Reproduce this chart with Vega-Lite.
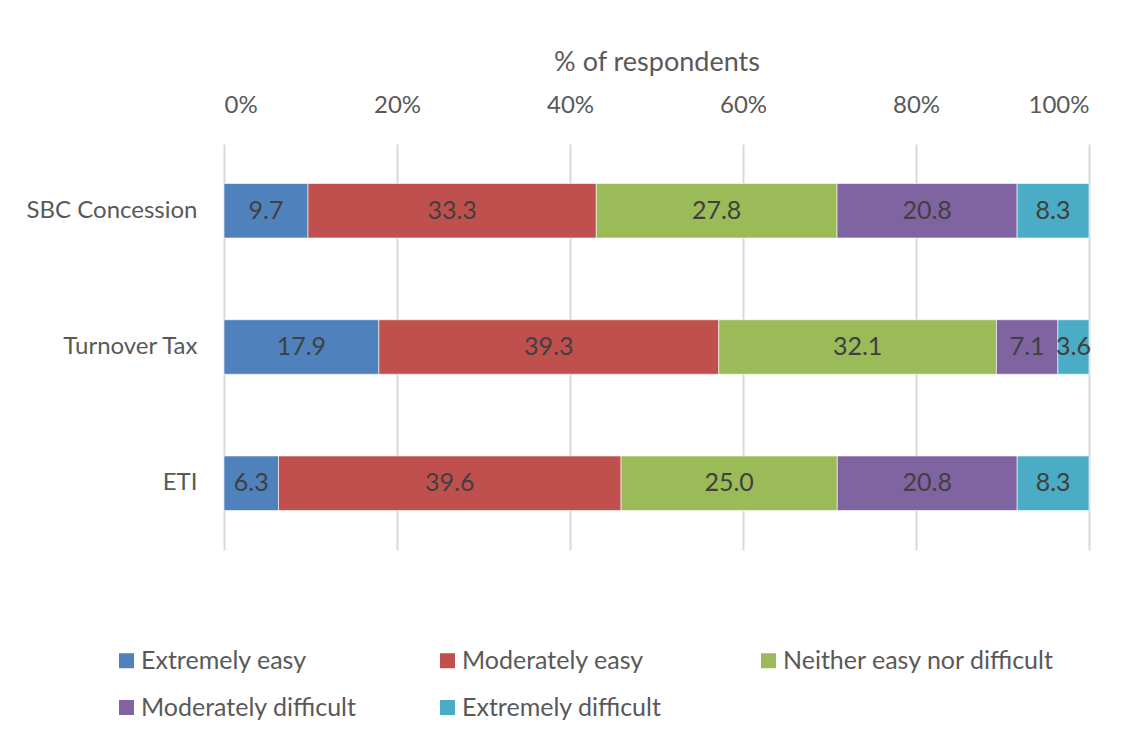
{
  "$schema": "https://vega.github.io/schema/vega-lite/v6.json",
  "width": 865,
  "height": 406,
  "autosize": "none",
  "padding": {"left": 224, "top": 144, "right": 38, "bottom": 189},
  "background": "#ffffff",
  "config": {
    "font": "Lato",
    "view": {"stroke": null},
    "text": {"font": "Lato"}
  },
  "data": {
    "values": [
      {"task": "SBC Concession", "level": "\u00a0Extremely easy", "k": 1, "value": 9.7},
      {"task": "SBC Concession", "level": "Moderately easy", "k": 2, "value": 33.3},
      {"task": "SBC Concession", "level": "Neither easy nor difficult", "k": 3, "value": 27.8},
      {"task": "SBC Concession", "level": "Moderately difficult", "k": 4, "value": 20.8},
      {"task": "SBC Concession", "level": "Extremely difficult", "k": 5, "value": 8.3},
      {"task": "Turnover Tax", "level": "\u00a0Extremely easy", "k": 1, "value": 17.9},
      {"task": "Turnover Tax", "level": "Moderately easy", "k": 2, "value": 39.3},
      {"task": "Turnover Tax", "level": "Neither easy nor difficult", "k": 3, "value": 32.1},
      {"task": "Turnover Tax", "level": "Moderately difficult", "k": 4, "value": 7.1},
      {"task": "Turnover Tax", "level": "Extremely difficult", "k": 5, "value": 3.6},
      {"task": "ETI", "level": "\u00a0Extremely easy", "k": 1, "value": 6.3},
      {"task": "ETI", "level": "Moderately easy", "k": 2, "value": 39.6},
      {"task": "ETI", "level": "Neither easy nor difficult", "k": 3, "value": 25.0},
      {"task": "ETI", "level": "Moderately difficult", "k": 4, "value": 20.8},
      {"task": "ETI", "level": "Extremely difficult", "k": 5, "value": 8.3}
    ]
  },
  "encoding": {
    "y": {
      "field": "task",
      "type": "nominal",
      "sort": null,
      "scale": {"paddingInner": 0.6, "paddingOuter": 0.29},
      "axis": {
        "title": null,
        "domain": false,
        "ticks": false,
        "labelFontSize": 24,
        "labelColor": "#595959",
        "labelPadding": 27,
        "labelFont": "Lato"
      }
    },
    "order": {"field": "k", "type": "quantitative"}
  },
  "layer": [
    {
      "mark": {"type": "bar", "stroke": "#ffffff", "strokeWidth": 0.6},
      "encoding": {
        "x": {
          "field": "value",
          "type": "quantitative",
          "stack": "normalize",
          "scale": {"domain": [0, 1], "nice": false},
          "axis": {
            "orient": "top",
            "title": "% of respondents",
            "titleFontSize": 27,
            "titleFontWeight": "normal",
            "titleColor": "#595959",
            "titleFont": "Lato",
            "titlePadding": 17,
            "format": ".0%",
            "values": [0, 0.2, 0.4, 0.6, 0.8, 1],
            "domain": false,
            "ticks": false,
            "labelFontSize": 24,
            "labelColor": "#595959",
            "labelFont": "Lato",
            "labelPadding": 27,
            "grid": true,
            "gridColor": "#d9d9d9",
            "gridWidth": 2
          }
        },
        "color": {
          "field": "level",
          "type": "nominal",
          "scale": {
            "domain": ["\u00a0Extremely easy", "Moderately easy", "Neither easy nor difficult", "Moderately difficult", "Extremely difficult"],
            "range": ["#4f81bd", "#c0504d", "#9bbb59", "#8064a2", "#4bacc6"]
          },
          "legend": {
            "title": null,
            "orient": "none",
            "legendX": -110,
            "legendY": 504,
            "direction": "horizontal",
            "columns": 3,
            "gridAlign": "all",
            "columnPadding": 22,
            "rowPadding": 21,
            "symbolType": "square",
            "symbolSize": 225,
            "symbolStrokeWidth": 0,
            "labelFontSize": 25,
            "labelColor": "#595959",
            "labelFont": "Lato",
            "labelOffset": 2,
            "labelLimit": 400
          }
        }
      }
    },
    {
      "mark": {"type": "text", "fontSize": 25, "color": "#404040", "align": "center", "baseline": "middle"},
      "encoding": {
        "x": {"field": "value", "type": "quantitative", "stack": "normalize", "bandPosition": 0.5},
        "text": {"field": "value", "type": "quantitative", "format": ".1f"}
      }
    }
  ]
}
